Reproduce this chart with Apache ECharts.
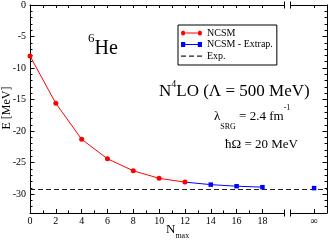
<!DOCTYPE html>
<html><head><meta charset="utf-8">
<script src="https://cdn.jsdelivr.net/npm/echarts@6/dist/echarts.min.js"></script>
<style>html,body{margin:0;padding:0;background:#fff}#c{width:328px;height:241px}</style>
</head><body><div id="c"></div>
<script>
// ---- data ----
const nmaxNCSM = [0, 2, 4, 6, 8, 10, 12];
const eNCSM = [-8.1, -15.6, -21.3, -24.4, -26.3, -27.5, -28.1];
const nmaxExtrap = [12, 14, 16, 18];
const eExtrap = [-28.1, -28.5, -28.75, -28.9];
const infinityPos = 22;          // axis slot used for N_max = infinity
const eInfinity = -29.05;
const eExp = -29.27;
const xTickLabels = ['0','2','4','6','8','10','12','14','16','18','∞'];
const xTickPositions = [0,2,4,6,8,10,12,14,16,18,22];
const yTickLabels = [0,-5,-10,-15,-20,-25,-30];
const xSlots = 24;               // axis slots 0..23
const yMin = -33, yMax = 0;
const breakSlot = 20;

// ---- build ----
const cats = Array.from({length: xSlots}, (_, i) => String(i));
const tickShown = i => i <= 18 || i === infinityPos;
const font = 'Liberation Serif';
const chart = echarts.init(document.getElementById('c'));

const baseX = {
  type: 'category', data: cats, boundaryGap: false, gridIndex: 0,
  axisLine: {show: false, onZero: false, lineStyle: {color: '#000', width: 1}},
  axisLabel: {show: false}, splitLine: {show: false}
};
const baseY = {
  type: 'value', min: yMin, max: yMax, gridIndex: 0,
  axisLine: {show: false, onZero: false, lineStyle: {color: '#000', width: 1}},
  axisLabel: {show: false}, splitLine: {show: false}
};

chart.setOption({
  animation: false,
  grid: {left: 30, right: 1, top: 5, bottom: 28},
  xAxis: [
    Object.assign({}, baseX, {
      position: 'bottom',
      axisLine: {show: true, onZero: false, lineStyle: {color: '#000', width: 1}},
      axisTick: {show: true, inside: true, length: 4, lineStyle: {color: '#000'},
        interval: (i) => xTickPositions.indexOf(i) >= 0},
      axisLabel: {show: true, margin: 3, fontSize: 10, fontFamily: font, color: '#000',
        interval: (i) => xTickPositions.indexOf(i) >= 0,
        formatter: (v, i) => { const k = xTickPositions.indexOf(i); return k >= 0 ? xTickLabels[k] : ''; }}
    }),
    Object.assign({}, baseX, {
      position: 'bottom',
      axisTick: {show: true, inside: true, length: 2.5, lineStyle: {color: '#000'},
        interval: (i) => tickShown(i)}
    }),
    Object.assign({}, baseX, {
      position: 'top',
      axisLine: {show: true, onZero: false, lineStyle: {color: '#000', width: 1}},
      axisTick: {show: true, inside: true, length: 3, lineStyle: {color: '#000'},
        interval: (i) => tickShown(i)}
    })
  ],
  yAxis: [
    Object.assign({}, baseY, {
      position: 'left', interval: 1,
      axisLine: {show: true, onZero: false, lineStyle: {color: '#000', width: 1}},
      axisTick: {show: true, inside: true, length: 2.5, lineStyle: {color: '#000'}}
    }),
    Object.assign({}, baseY, {
      position: 'left', minInterval: 5, maxInterval: 5,
      axisTick: {show: true, inside: true, length: 4.5, lineStyle: {color: '#000'}},
      axisLabel: {show: true, margin: 4, fontSize: 10, fontFamily: font, color: '#000',
        formatter: v => (yTickLabels.indexOf(v) >= 0 ? String(v) : '')}
    }),
    Object.assign({}, baseY, {
      position: 'right', interval: 1,
      axisLine: {show: true, onZero: false, lineStyle: {color: '#000', width: 1}},
      axisTick: {show: true, inside: true, length: 2.5, lineStyle: {color: '#000'}}
    }),
    Object.assign({}, baseY, {
      position: 'right', minInterval: 5, maxInterval: 5,
      axisTick: {show: true, inside: true, length: 4.5, lineStyle: {color: '#000'}}
    })
  ],
  legend: {
    orient: 'vertical', left: 178, top: 25,
    backgroundColor: '#fff', borderColor: '#000', borderWidth: 1, borderRadius: 0,
    padding: [3, 4, 4, 3], itemGap: 1.5, itemWidth: 21, itemHeight: 5,
    symbolKeepAspect: false,
    textStyle: {fontFamily: font, fontSize: 10, color: '#000', lineHeight: 9},
    data: [
      {name: 'NCSM', icon: 'path://M0,2.5a2.5,2.5 0 1,0 5,0a2.5,2.5 0 1,0 -5,0z M20,2.5a2.5,2.5 0 1,0 5,0a2.5,2.5 0 1,0 -5,0z M5,2h15v1h-15z'},
      {name: 'NCSM - Extrap.', icon: 'path://M0,0h5v5h-5z M20,0h5v5h-5z M5,2h15v1h-15z'},
      {name: 'Exp.', icon: 'path://M0,2h6v1.2h-6z M9.5,2h6v1.2h-6z M19,2h6v1.2h-6z M0,0h0.01v5h-0.01z'}
    ]
  },
  graphic: [
    {type: 'text', x: 88, y: 49, style: {text: '{s|6}{m|He}', verticalAlign: 'middle', align: 'left',
      rich: {s: {fontSize: 13, lineHeight: 13, verticalAlign: 'top', fontFamily: font},
             m: {fontSize: 20, lineHeight: 33, fontFamily: font}}}},
    {type: 'text', x: 159, y: 92, style: {text: '{m|N}{s|4}{m|LO (Λ = 500 MeV)}', verticalAlign: 'middle', align: 'left',
      rich: {s: {fontSize: 10, lineHeight: 10, verticalAlign: 'top', fontFamily: font},
             m: {fontSize: 17, lineHeight: 25, fontFamily: font}}}},
    {type: 'text', x: 214, y: 117, style: {text: '{m|λ}{b|SRG}{m| = 2.4 fm}{s|-1}', verticalAlign: 'middle', align: 'left',
      rich: {s: {fontSize: 8, lineHeight: 9, verticalAlign: 'top', fontFamily: font},
             b: {fontSize: 8, lineHeight: 8, verticalAlign: 'bottom', fontFamily: font},
             m: {fontSize: 13, lineHeight: 27, fontFamily: font}}}},
    {type: 'text', x: 225, y: 145, style: {text: 'ħΩ = 20 MeV', verticalAlign: 'middle', align: 'left',
      font: '13px "Liberation Serif"', fill: '#000'}},
    {type: 'text', x: 7, y: 108, rotation: Math.PI / 2, style: {text: 'E [MeV]', verticalAlign: 'middle', align: 'center',
      font: '12px "Liberation Serif"', fill: '#000'}},
    {type: 'text', x: 166, y: 230, style: {text: '{m|N}{b|max}', verticalAlign: 'middle', align: 'left',
      rich: {b: {fontSize: 8, lineHeight: 8, verticalAlign: 'bottom', fontFamily: font},
             m: {fontSize: 13, lineHeight: 20, fontFamily: font}}}}
  ],
  series: [
    {name: 'Exp.', type: 'line', xAxisIndex: 0, yAxisIndex: 0, color: '#222', symbol: 'none',
      lineStyle: {type: [5, 3], width: 1.2, color: '#222'}, z: 1,
      data: [[0, eExp], [xSlots - 1, eExp]]},
    {name: 'NCSM', type: 'line', xAxisIndex: 0, yAxisIndex: 0, color: '#ff0000',
      symbol: 'circle', symbolSize: 5, lineStyle: {width: 1, color: '#ff0000'}, z: 4,
      data: nmaxNCSM.map((n, i) => [n, eNCSM[i]])},
    {name: 'NCSM - Extrap.', type: 'line', xAxisIndex: 0, yAxisIndex: 0, color: '#0000ff',
      symbol: 'rect', symbolSize: 4.5, lineStyle: {width: 1, color: '#0000ff'}, z: 3, connectNulls: false,
      data: nmaxExtrap.map((n, i) => i === 0 ? {value: [n, eExtrap[i]], symbol: 'none'} : [n, eExtrap[i]])
        .concat([[breakSlot, '-'], [infinityPos, eInfinity]])},
    {type: 'custom', xAxisIndex: 0, yAxisIndex: 0, clip: false, silent: true, z: 10,
      data: [[breakSlot, yMin], [breakSlot, yMax]],
      renderItem: (params, api) => {
        const p = api.coord([api.value(0), api.value(1)]);
        const xa = Math.round(p[0] - 4.5) + 0.5, xb = Math.round(p[0] + 2) + 0.5;
        return {type: 'group', children: [
          {type: 'rect', shape: {x: xa, y: p[1] - 1.5, width: xb - xa, height: 3}, style: {fill: '#fff'}},
          {type: 'line', shape: {x1: xa, y1: p[1] - 3.5, x2: xa, y2: p[1] + 3.5}, style: {stroke: '#000', lineWidth: 1}},
          {type: 'line', shape: {x1: xb, y1: p[1] - 3.5, x2: xb, y2: p[1] + 3.5}, style: {stroke: '#000', lineWidth: 1}}
        ]};
      }}
  ]
});
</script>
</body></html>
